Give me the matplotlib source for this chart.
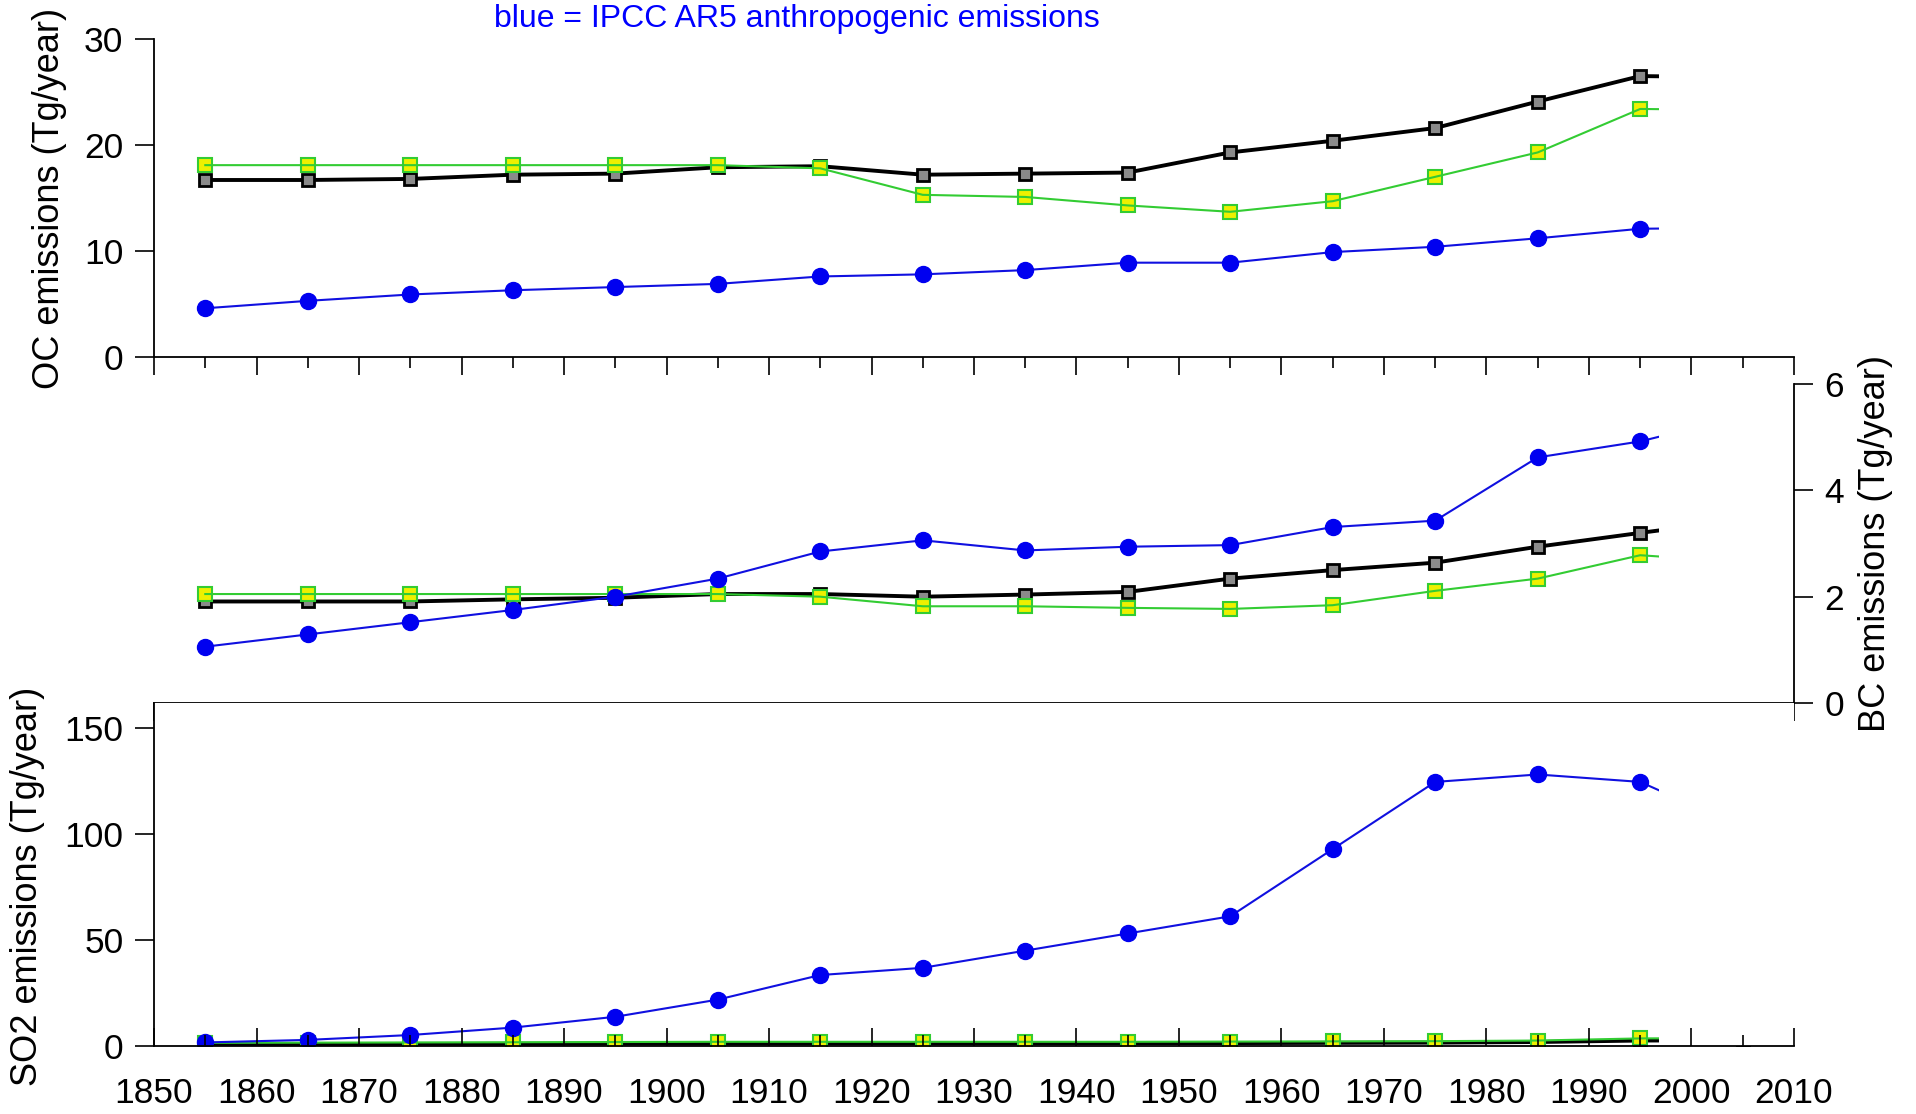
import numpy as np
import matplotlib
matplotlib.use('Agg')
import matplotlib.pyplot as plt
from matplotlib.ticker import MultipleLocator

plt.rcParams['font.family'] = ['Liberation Sans', 'DejaVu Sans']

years = [1855, 1865, 1875, 1885, 1895, 1905, 1915, 1925, 1935, 1945,
         1955, 1965, 1975, 1985, 1995, 2005]

# OC emissions (Tg/year)
oc_black = [16.7, 16.7, 16.8, 17.2, 17.3, 17.9, 18.0, 17.2, 17.3, 17.4,
            19.3, 20.4, 21.6, 24.1, 26.5, 26.4]
oc_green = [18.1, 18.1, 18.1, 18.1, 18.1, 18.1, 17.8, 15.3, 15.1, 14.3,
            13.7, 14.7, 17.0, 19.3, 23.4, 23.3]
oc_blue = [4.6, 5.3, 5.9, 6.3, 6.6, 6.9, 7.6, 7.8, 8.2, 8.9,
           8.9, 9.9, 10.4, 11.2, 12.1, 12.2]

# BC emissions (Tg/year)
bc_black = [1.91, 1.91, 1.91, 1.95, 1.98, 2.05, 2.05, 2.00, 2.04, 2.09,
            2.34, 2.50, 2.64, 2.94, 3.20, 3.45]
bc_green = [2.05, 2.05, 2.05, 2.05, 2.05, 2.05, 2.00, 1.82, 1.82, 1.79,
            1.77, 1.84, 2.11, 2.34, 2.78, 2.65]
bc_blue = [1.06, 1.29, 1.52, 1.75, 2.00, 2.34, 2.85, 3.06, 2.87, 2.94,
           2.97, 3.31, 3.43, 4.62, 4.92, 5.40]

# SO2 emissions (Tg/year)
so2_black = [0.8, 0.9, 1.0, 1.0, 1.1, 1.1, 1.2, 1.2, 1.2, 1.3,
             1.4, 1.5, 1.6, 1.9, 2.6, 2.7]
so2_green = [1.5, 1.6, 1.7, 1.8, 1.9, 2.0, 2.0, 2.0, 2.0, 2.0,
             2.1, 2.2, 2.3, 2.6, 3.6, 3.8]
so2_blue = [1.7, 2.9, 5.2, 8.7, 13.8, 21.9, 33.5, 36.9, 45.0, 53.1,
            61.2, 92.9, 124.6, 128.1, 124.6, 103.0]

CUT_YEAR = 1996.8
TICK_FS = 25.5
LABEL_FS = 26

fig = plt.figure(figsize=(19.16, 11.14), dpi=100)
ax_top = fig.add_axes([0.0804, 0.6795, 0.8559, 0.2855])
ax_mid = fig.add_axes([0.0804, 0.3689, 0.8559, 0.2864])
ax_bot = fig.add_axes([0.0804, 0.0610, 0.8559, 0.3079])


def draw_series(ax, black, green, blue):
    ax.plot(years, black, color='black', lw=2.8, marker='s', ms=9,
            mfc='#8a8a8a', mec='black', mew=2.0, zorder=2)
    ax.plot(years, green, ls='none', marker='s', ms=10,
            mfc='#eef000', mec='#33cc33', mew=1.5, zorder=2.05)
    ax.plot(years, green, color='#33cc33', lw=1.5, zorder=2.1)
    ax.plot(years, blue, color='#1010e0', lw=1.5, marker='o', ms=11.5,
            mfc='#0000f0', mec='#0000f0', zorder=2.2)
    # blank out the part after the last shown decade
    ax.axvspan(CUT_YEAR, 2009.6, color='white', lw=0, zorder=2.3)
    ax.set_axisbelow(False)
    ax.set_xlim(1850, 2010)
    ax.xaxis.set_major_locator(MultipleLocator(10))
    ax.xaxis.set_minor_locator(MultipleLocator(5))
    for s in ax.spines.values():
        s.set_linewidth(1.3)


draw_series(ax_top, oc_black, oc_green, oc_blue)
draw_series(ax_mid, bc_black, bc_green, bc_blue)
draw_series(ax_bot, so2_black, so2_green, so2_blue)

# top panel: OC
ax_top.set_ylim(0, 30)
ax_top.set_yticks([0, 10, 20, 30])
ax_top.spines['top'].set_visible(False)
ax_top.spines['right'].set_visible(False)
ax_top.tick_params(axis='x', which='major', direction='out', length=13, width=1.2,
                   labelbottom=False)
ax_top.tick_params(axis='x', which='minor', direction='out', length=8, width=1.2)
ax_top.tick_params(axis='y', direction='out', length=14, width=1.2, pad=8,
                   labelsize=TICK_FS)

# middle panel: BC
ax_mid.set_ylim(0, 6)
ax_mid.set_yticks([0, 2, 4, 6])
ax_mid.spines['top'].set_visible(False)
ax_mid.spines['left'].set_visible(False)
ax_mid.yaxis.tick_right()
ax_mid.tick_params(axis='x', which='major', direction='out', length=13, width=1.2,
                   labelbottom=False)
ax_mid.tick_params(axis='x', which='minor', direction='out', length=8, width=1.2)
ax_mid.tick_params(axis='y', direction='out', length=14, width=1.2, pad=8,
                   labelsize=TICK_FS)

# bottom panel: SO2
ax_bot.set_ylim(0, 161.8)
ax_bot.set_yticks([0, 50, 100, 150])
ax_bot.spines['top'].set_visible(False)
ax_bot.spines['right'].set_visible(False)
ax_bot.tick_params(axis='x', which='major', direction='in', length=13, width=1.2,
                   pad=22, labelsize=TICK_FS)
ax_bot.tick_params(axis='x', which='minor', direction='in', length=8, width=1.2)
ax_bot.tick_params(axis='y', direction='out', length=14, width=1.2, pad=8,
                   labelsize=TICK_FS)

fig.text(0.0256, 0.8223, 'OC emissions (Tg/year)', rotation=90,
         ha='center', va='center', fontsize=LABEL_FS)
fig.text(0.979, 0.5117, 'BC emissions (Tg/year)', rotation=90,
         ha='center', va='center', fontsize=LABEL_FS)
fig.text(0.0141, 0.2047, 'SO2 emissions (Tg/year)', rotation=90,
         ha='center', va='center', fontsize=LABEL_FS)
fig.text(0.416, 0.983, 'blue = IPCC AR5 anthropogenic emissions', color='#0000ff',
         ha='center', va='center', fontsize=23)

fig.savefig('out.png', dpi=100)
